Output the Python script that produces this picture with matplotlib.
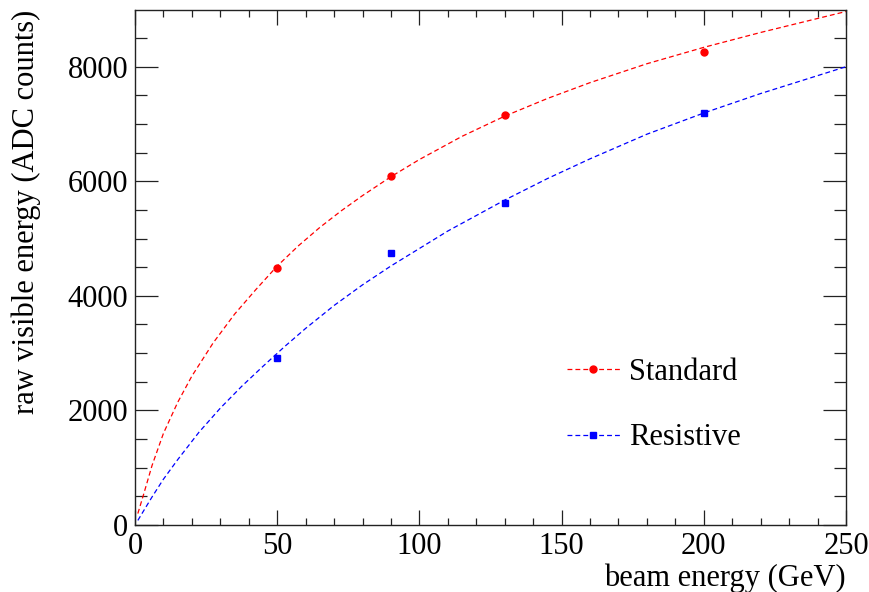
import matplotlib.pyplot as plt
from matplotlib.lines import Line2D
from matplotlib.ticker import MultipleLocator

# measured points
beam_energy = [50, 90, 130, 200]
standard_adc = [4490, 6100, 7155, 8255]
resistive_adc = [2910, 4740, 5625, 7185]

# fitted response curves, sampled along the beam energy range
standard_fit_x = [1, 3, 6, 10, 15, 20, 27.5, 35, 42.5, 50, 57.5, 65, 72.5,
                  80, 90, 100, 115, 130, 145, 160, 180, 200, 220, 250]
standard_fit_y = [200, 530, 1040, 1600, 2140, 2600, 3180, 3680, 4110, 4520,
                  4876, 5195, 5484, 5750, 6080, 6380, 6785, 7137, 7445, 7722,
                  8052, 8338, 8598, 8964]
resistive_fit_x = [1, 3, 6, 10, 15, 22.5, 30, 37.5, 45, 52.5, 60, 70, 80, 90,
                   110, 130, 145, 160, 180, 200, 220, 250]
resistive_fit_y = [80, 245, 490, 800, 1140, 1620, 2040, 2420, 2770, 3110,
                   3432, 3832, 4192, 4522, 5132, 5672, 6047, 6392, 6822, 7192,
                   7532, 8000]

plt.rcParams['font.family'] = ['Liberation Serif', 'DejaVu Serif']
plt.rcParams['lines.scale_dashes'] = False

fs = 22
fig = plt.figure(figsize=(8.69, 5.92), dpi=100)
ax = fig.add_axes([135 / 869, 1 - 525 / 592, 711 / 869, 515 / 592])

dash = (3.5, 2.2)
ax.plot(standard_fit_x, standard_fit_y, color='#ff0000', lw=0.9, dashes=dash)
ax.plot(resistive_fit_x, resistive_fit_y, color='#0000ff', lw=0.9, dashes=dash)
ax.plot(beam_energy, standard_adc, ls='none', marker='o', ms=5,
        color='#ff0000')
ax.plot(beam_energy, resistive_adc, ls='none', marker='s', ms=5,
        color='#0000ff')

ax.set_xlim(0, 250)
ax.set_ylim(0, 8990)
ax.xaxis.set_major_locator(MultipleLocator(50))
ax.xaxis.set_minor_locator(MultipleLocator(10))
ax.yaxis.set_major_locator(MultipleLocator(2000))
ax.yaxis.set_minor_locator(MultipleLocator(500))

for s in ax.spines.values():
    s.set_linewidth(1.0)
    s.set_color('#222222')
ax.tick_params(which='both', direction='in', top=True, right=True,
               labelsize=fs, width=0.9, color='#222222')
ax.tick_params(axis='x', which='major', length=10.8, pad=5)
ax.tick_params(axis='x', which='minor', length=5)
ax.tick_params(axis='y', which='major', length=16.5, pad=5)
ax.tick_params(axis='y', which='minor', length=8.6)

ax.set_xlabel('beam energy (GeV)', fontsize=fs, loc='right')
ax.xaxis.set_label_coords(1.0, -0.074)
ax.set_ylabel('raw visible energy (ADC counts)', fontsize=fs, loc='top')
ax.yaxis.set_label_coords(-0.132, 1.0)

handles = [
    Line2D([], [], color='#ff0000', lw=0.9, dashes=dash, marker='o', ms=5),
    Line2D([], [], color='#0000ff', lw=0.9, dashes=dash, marker='s', ms=5),
]
ax.legend(handles, ['Standard', 'Resistive'], loc='upper left',
          bbox_to_anchor=(0.6076, 0.325), frameon=False, fontsize=fs,
          handlelength=1.73, handletextpad=0.3, labelspacing=1.2,
          borderaxespad=0, borderpad=0)

fig.savefig('out.png', dpi=100)
